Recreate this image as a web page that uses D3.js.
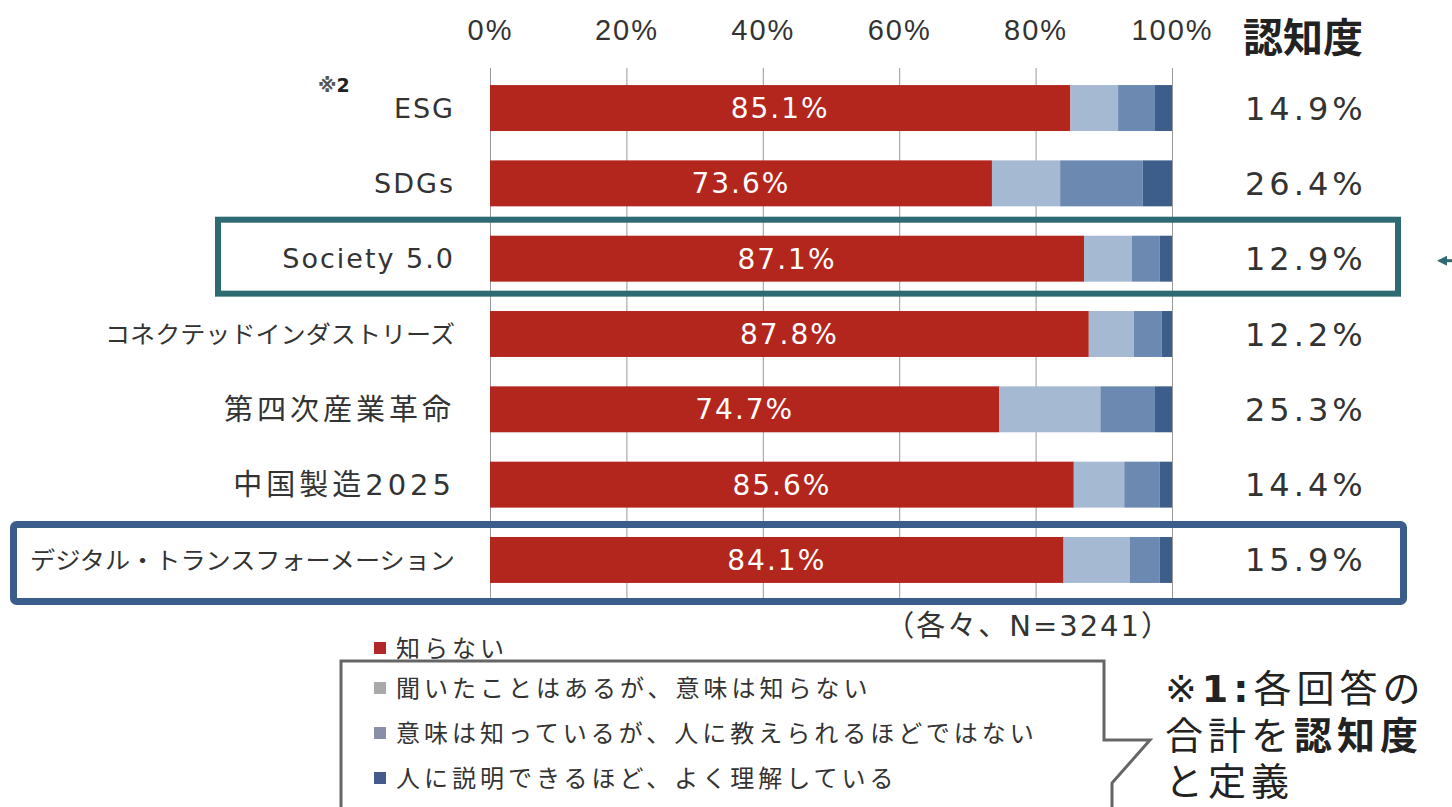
<!DOCTYPE html>
<html>
<head>
<meta charset="utf-8">
<script src="https://cdn.jsdelivr.net/npm/d3@7"></script>
<style>
  body { margin: 0; background: #fff; }
  svg { display: block; font-family: "DejaVu Sans", "Noto Sans CJK JP", sans-serif; }
</style>
</head>
<body>
<div id="chart"></div>
<script>
var categories = ["ESG", "SDGs", "Society 5.0", "コネクテッドインダストリーズ", "第四次産業革命", "中国製造2025", "デジタル・トランスフォーメーション"];
var notKnown    = [85.1, 73.6, 87.1, 87.8, 74.7, 85.6, 84.1];
var heardOnly   = [7.0, 10.0, 7.0, 6.6, 14.8, 7.4, 9.7];
var knowMeaning = [5.4, 12.1, 4.1, 4.1, 8.0, 5.2, 4.4];
var canExplain  = [2.5, 4.3, 1.8, 1.5, 2.5, 1.8, 1.8];
var awareness   = [14.9, 26.4, 12.9, 12.2, 25.3, 14.4, 15.9];
var xTicks = [0, 20, 40, 60, 80, 100];
var seriesNames = ["知らない", "聞いたことはあるが、意味は知らない", "意味は知っているが、人に教えられるほどではない", "人に説明できるほど、よく理解している"];

var width = 1452, height = 807;
var barColors = ["#b3261e", "#a6b9d2", "#6b89b1", "#3d5d8a"];
var legendColors = ["#b0282a", "#a9a9a9", "#8a8fa8", "#475a8c"];

var svg = d3.select("#chart").append("svg")
    .attr("width", width)
    .attr("height", height);

var x = d3.scaleLinear().domain([0, 100]).range([490, 1172]);
var y = d3.scaleBand().domain(categories).range([70, 598])
    .paddingInner(0.39).paddingOuter(0.2);

// rows for stacking
var rows = categories.map(function(c, i) {
  return {name: c, s0: notKnown[i], s1: heardOnly[i], s2: knowMeaning[i], s3: canExplain[i]};
});
var stacked = d3.stack().keys(["s0", "s1", "s2", "s3"])(rows);

var isKana = function(s) { return /[\u30a0-\u30ff]/.test(s); };
var isLatin = function(s) { return /^[A-Za-z0-9 .]+$/.test(s); };

// axis + gridlines
var axis = svg.append("g")
    .attr("transform", "translate(0,68)")
    .call(d3.axisTop(x).tickValues(xTicks)
      .tickFormat(function(d) { return d + "%"; })
      .tickSize(-530).tickPadding(28));
axis.select(".domain").remove();
axis.selectAll("line").attr("stroke", "#999");
axis.selectAll("text")
    .attr("fill", "#333")
    .style("font-size", "29px")
    .style("letter-spacing", "2px");

// bars
svg.append("g").selectAll("g")
  .data(stacked)
  .enter().append("g")
    .attr("fill", function(d, i) { return barColors[i]; })
  .selectAll("rect")
  .data(function(d) { return d; })
  .enter().append("rect")
    .attr("x", function(d) { return x(d[0]); })
    .attr("y", function(d) { return y(d.data.name); })
    .attr("width", function(d) { return x(d[1]) - x(d[0]); })
    .attr("height", y.bandwidth());

// value labels in the red part
svg.append("g").selectAll("text")
  .data(rows)
  .enter().append("text")
    .attr("x", function(d) { return x(d.s0 / 2); })
    .attr("y", function(d) { return y(d.name) + y.bandwidth() / 2; })
    .attr("dy", "0.36em")
    .attr("text-anchor", "middle")
    .attr("fill", "#fff")
    .style("font-size", "28px")
    .style("letter-spacing", "2px")
    .text(function(d) { return d.s0.toFixed(1) + "%"; });

// category labels
svg.append("g").selectAll("text")
  .data(categories)
  .enter().append("text")
    .attr("x", 455)
    .attr("y", function(d) { return y(d) + y.bandwidth() / 2; })
    .attr("dy", "0.36em")
    .attr("text-anchor", "end")
    .attr("fill", "#333")
    .style("font-size", function(d) { return isKana(d) ? "24px" : (isLatin(d) ? "27px" : "29px"); })
    .style("letter-spacing", function(d) { return isKana(d) ? "0px" : (isLatin(d) ? "2px" : "4px"); })
    .text(function(d) { return d; })
    .each(function(d) {
      if (isKana(d)) {
        d3.select(this).attr("textLength", d.length * 25).attr("lengthAdjust", "spacingAndGlyphs");
      }
    });

// ※2 note
var note = svg.append("text")
    .attr("x", 318).attr("y", 92)
    .style("font-size", "19px")
    .style("font-weight", "bold");
note.append("tspan").attr("fill", "#555").text("※");
note.append("tspan").attr("fill", "#222").text("2");

// awareness column
svg.append("text")
    .attr("x", 1243).attr("y", 52)
    .attr("fill", "#222")
    .style("font-size", "40px")
    .style("font-weight", "bold")
    .text("認知度");

svg.append("g").selectAll("text")
  .data(awareness)
  .enter().append("text")
    .attr("x", 1245)
    .attr("y", function(d, i) { return y(categories[i]) + y.bandwidth() / 2; })
    .attr("dy", "0.36em")
    .attr("fill", "#333")
    .style("font-size", "32px")
    .style("letter-spacing", "4px")
    .text(function(d) { return d.toFixed(1) + "%"; });

// highlight boxes
var ySoc = y("Society 5.0");
svg.append("rect")
    .attr("x", 218).attr("y", ySoc - 16)
    .attr("width", 1180).attr("height", y.bandwidth() + 28)
    .attr("fill", "none").attr("stroke", "#2e6a72").attr("stroke-width", 6);

var yDx = y("デジタル・トランスフォーメーション");
svg.append("rect")
    .attr("x", 13.5).attr("y", yDx - 12.5)
    .attr("width", 1390).attr("height", y.bandwidth() + 31)
    .attr("rx", 3)
    .attr("fill", "none").attr("stroke", "#3a5d8c").attr("stroke-width", 7);

// arrow pointing at the Society box
var ay = ySoc + y.bandwidth() / 2 + 2;
svg.append("line")
    .attr("x1", 1444).attr("x2", 1460).attr("y1", ay).attr("y2", ay)
    .attr("stroke", "#2e6a72").attr("stroke-width", 3);
svg.append("path")
    .attr("d", "M1437," + ay + "L1447," + (ay - 5) + "L1447," + (ay + 5) + "Z")
    .attr("fill", "#2e6a72");

// N note
svg.append("text")
    .attr("x", 1172).attr("y", 636)
    .attr("text-anchor", "end")
    .attr("fill", "#333")
    .style("font-size", "29px")
    .style("letter-spacing", "2px")
    .text("（各々、N=3241）");

// callout box around the legend
svg.append("path")
    .attr("d", "M341,807 L341,661 L1104,661 L1104,740 L1150,740 L1112,783 L1112,807")
    .attr("fill", "#fff").attr("stroke", "#666").attr("stroke-width", 3);

// legend
var legendY = [648, 688, 733, 778];
var legend = svg.append("g").selectAll("g")
  .data(seriesNames)
  .enter().append("g")
    .attr("transform", function(d, i) { return "translate(374," + legendY[i] + ")"; });
legend.append("rect")
    .attr("x", 0).attr("y", -6).attr("width", 12).attr("height", 12)
    .attr("fill", function(d, i) { return legendColors[i]; });
legend.append("text")
    .attr("x", 22).attr("dy", "0.36em")
    .attr("fill", "#333")
    .style("font-size", "24px")
    .style("letter-spacing", "4px")
    .text(function(d) { return d; });

// definition note
var def = svg.append("g")
    .attr("fill", "#222")
    .style("font-size", "38px")
    .style("letter-spacing", "5px");
var l1 = def.append("text").attr("x", 1165).attr("y", 702);
l1.append("tspan").text("※");
l1.append("tspan").style("font-weight", "bold").text("1:");
l1.append("tspan").text("各回答の");
var l2 = def.append("text").attr("x", 1165).attr("y", 749);
l2.append("tspan").text("合計を");
l2.append("tspan").style("font-weight", "bold").text("認知度");
def.append("text").attr("x", 1165).attr("y", 795).text("と定義");
</script>
</body>
</html>
